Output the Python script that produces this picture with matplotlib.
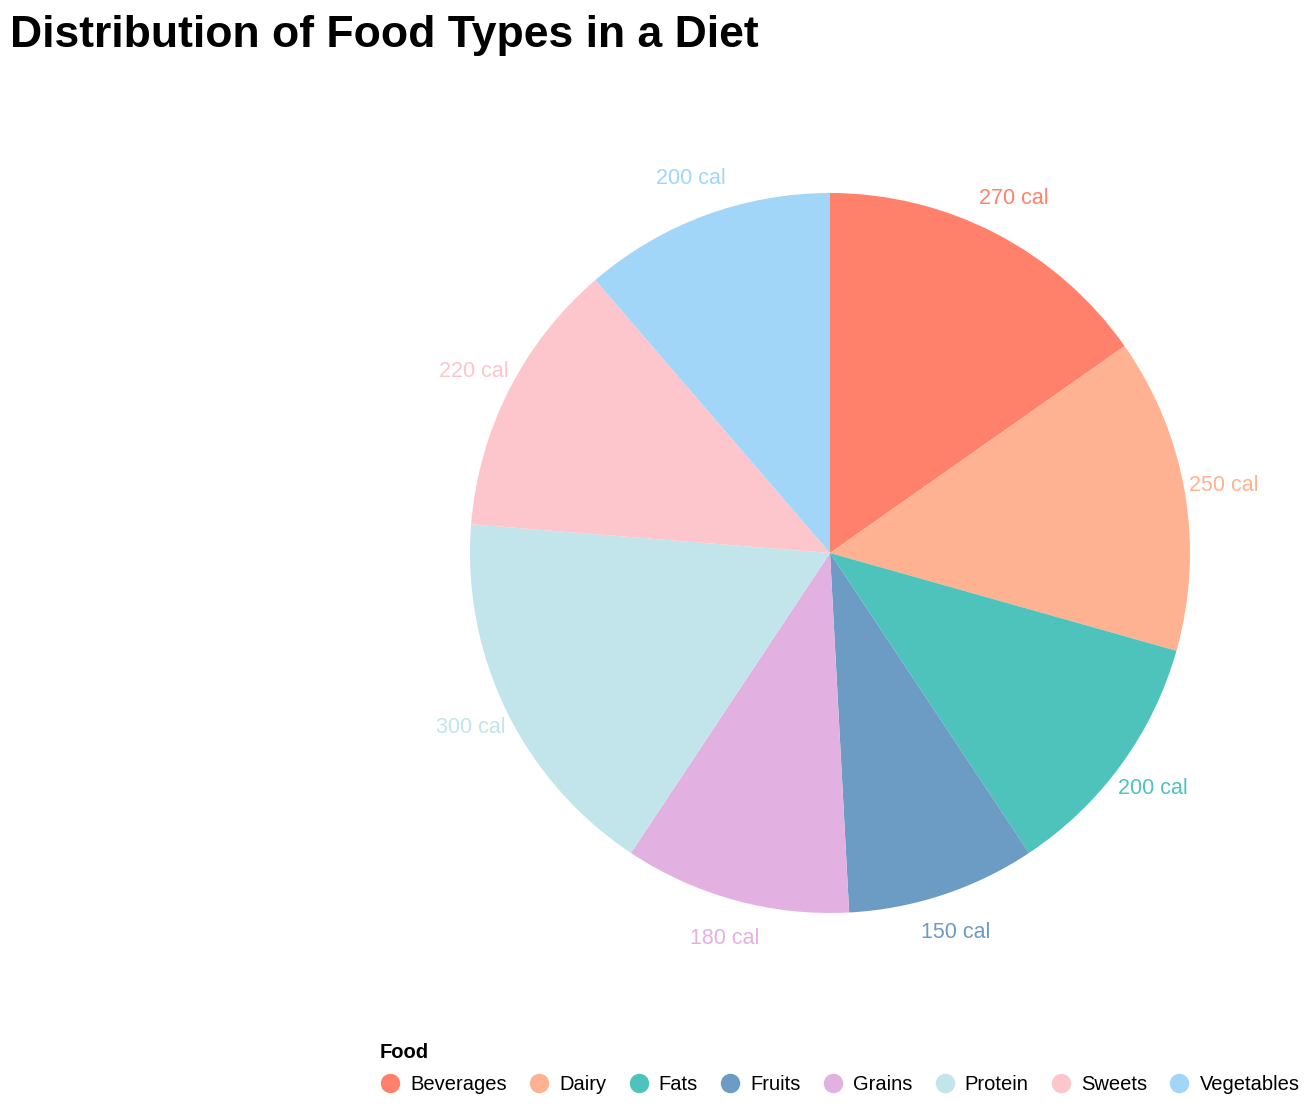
import matplotlib
matplotlib.use("Agg")
import matplotlib.pyplot as plt
from matplotlib.lines import Line2D

plt.rcParams['font.family'] = ['Liberation Sans', 'DejaVu Sans']

foods = ["Beverages", "Dairy", "Fats", "Fruits", "Grains", "Protein", "Sweets", "Vegetables"]
calories = [270, 250, 200, 150, 180, 300, 220, 200]
colors = ["#FF816C", "#FFB291", "#4EC3BB", "#6C9BC4", "#E3B1E1", "#C1E5EA", "#FDC5CC", "#A1D6F9"]
labels = [f"{c} cal" for c in calories]

W, H = 1310, 1104
fig = plt.figure(figsize=(W / 100, H / 100), dpi=100)
cx, cy, R = 830, 553, 360
ax = fig.add_axes([(cx - R) / W, (H - cy - R) / H, 2 * R / W, 2 * R / H])
wedges, texts = ax.pie(calories, colors=colors, startangle=90, counterclock=False,
                       labels=labels, labeldistance=1.11, radius=1,
                       wedgeprops=dict(linewidth=0),
                       textprops=dict(fontsize=15.5))
for t, c in zip(texts, colors):
    t.set_color(c)
    t.set_ha('center')
    t.set_va('center')
ax.set_xlim(-1, 1)
ax.set_ylim(-1, 1)
ax.set_aspect('equal')
ax.axis('off')

fig.text(10 / W, 1 - 47 / H, "Distribution of Food Types in a Diet", fontsize=32,
         fontweight='bold', ha='left', va='baseline')

handles = [Line2D([0], [0], marker='o', linestyle='', markersize=14,
                  markerfacecolor=c, markeredgewidth=0) for c in colors]
leg = fig.legend(handles, foods, loc='lower left', bbox_to_anchor=(380 / W, 10 / H),
                 ncol=len(foods), frameon=False, fontsize=14.5, title="Food",
                 title_fontproperties={'weight': 'bold', 'size': 14.5},
                 handletextpad=0.5, columnspacing=1.1, borderpad=0, handlelength=1.0,
                 labelspacing=0.65, borderaxespad=0)
leg._legend_box.align = "left"

fig.savefig("out.png", dpi=100)
